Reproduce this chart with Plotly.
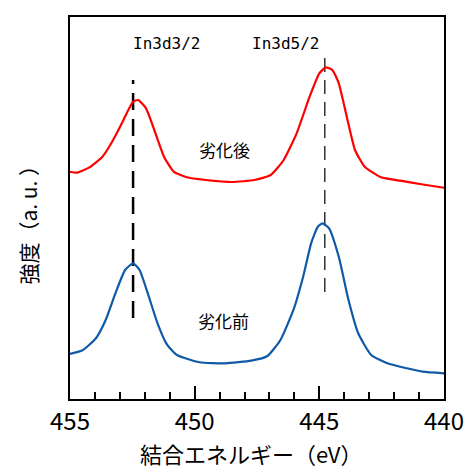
import plotly.graph_objects as go

# Binding energy (eV) and intensities (a.u.)
x_after = [455.00, 454.74, 454.22, 453.70, 453.31, 452.92, 452.66, 452.47, 452.27, 451.95,
           451.62, 451.23, 450.84, 450.32, 449.55, 448.51, 447.60, 446.95, 446.43, 445.91,
           445.39, 445.00, 444.74, 444.48, 444.22, 443.90, 443.57, 443.18, 442.53, 441.75,
           440.97, 440.00]
y_after = [59.50, 59.24, 60.65, 63.43, 67.36, 72.17, 75.65, 77.83, 78.27, 76.10,
           70.42, 63.43, 59.50, 58.04, 57.33, 56.81, 57.33, 58.64, 62.57, 69.55,
           79.14, 85.26, 86.83, 86.13, 82.64, 73.90, 65.18, 60.81, 58.04, 57.15,
           56.28, 55.30]

x_before = [455.00, 454.48, 453.96, 453.57, 453.18, 452.79, 452.47, 452.21, 451.88, 451.49,
            451.10, 450.71, 449.81, 448.77, 447.73, 447.08, 446.56, 446.04, 445.65, 445.33,
            445.06, 444.87, 444.61, 444.22, 443.83, 443.44, 442.92, 442.27, 441.49, 440.85,
            440.00]
y_before = [11.78, 12.83, 15.89, 20.68, 27.67, 33.77, 35.52, 33.77, 27.67, 19.82,
            14.14, 11.52, 9.61, 9.35, 10.03, 11.26, 15.45, 23.30, 32.02, 40.76,
            45.10, 45.99, 44.69, 37.25, 25.92, 17.20, 11.52, 9.35, 8.04, 7.15,
            6.73]

peak_names = ["In3d3/2", "In3d5/2"]
peak_positions = [452.47, 444.78]
peak_line_top = [83.5, 90.8]
peak_line_bottom = [21.2, 28.0]
series_names = ["劣化後", "劣化前"]
x_ticks = [455, 450, 445, 440]

JP = "Noto Sans CJK JP"

fig = go.Figure()
fig.add_trace(go.Scatter(x=x_after, y=y_after, mode="lines", name=series_names[0],
                         line=dict(color="#ff0000", width=2.2, shape="spline", smoothing=0.5)))
fig.add_trace(go.Scatter(x=x_before, y=y_before, mode="lines", name=series_names[1],
                         line=dict(color="#0f5aa8", width=2.2, shape="spline", smoothing=0.5)))

dash_styles = [dict(width=2.5, dash="17px,9px"), dict(width=1.2, dash="14px,8px")]
for xp, yt, yb, ds in zip(peak_positions, peak_line_top, peak_line_bottom, dash_styles):
    fig.add_shape(type="line", x0=xp, x1=xp, y0=yb, y1=yt, xref="x", yref="y",
                  line=dict(color="black", **ds), layer="below")

label_pos = [(0.162, 0.961), (0.671, 0.961)]
for name, (px, py) in zip(peak_names, label_pos):
    fig.add_annotation(x=px, y=py, xref="paper", yref="paper", text=name, showarrow=False,
                       font=dict(family="DejaVu Sans Mono", size=16, color="black"))

series_pos = [(0.413, 0.652), (0.410, 0.168)]
for name, (px, py) in zip(series_names, series_pos):
    fig.add_annotation(x=px, y=py, xref="paper", yref="paper", text=name, showarrow=False,
                       font=dict(family=JP, size=17, color="black"))

fig.add_annotation(x=0.483, y=-0.141, xref="paper", yref="paper", text="結合エネルギー（eV）",
                   showarrow=False, yanchor="middle", font=dict(family=JP, size=22, color="black"))
fig.add_annotation(x=-0.112, y=0.47, xref="paper", yref="paper", text="強度（a. u. ）",
                   showarrow=False, textangle=-90, xanchor="center", yanchor="middle",
                   font=dict(family=JP, size=21, color="black"))

fig.update_layout(
    width=476, height=470,
    margin=dict(l=70, r=21, t=17, b=71),
    paper_bgcolor="white", plot_bgcolor="white",
    showlegend=False,
    xaxis=dict(range=[455, 440], tickvals=x_ticks, ticks="inside", ticklen=13, tickwidth=2,
               tickcolor="black", showline=True, linecolor="black", linewidth=2, mirror=True,
               showgrid=False, zeroline=False,
               minor=dict(dtick=1, ticks="inside", ticklen=7, tickwidth=1.5, tickcolor="black"),
               tickfont=dict(family=JP, size=24, color="black")),
    yaxis=dict(range=[0, 100], showticklabels=False, ticks="", showline=True, linecolor="black",
               linewidth=2, mirror=True, showgrid=False, zeroline=False),
)

fig.write_html("out.html")
